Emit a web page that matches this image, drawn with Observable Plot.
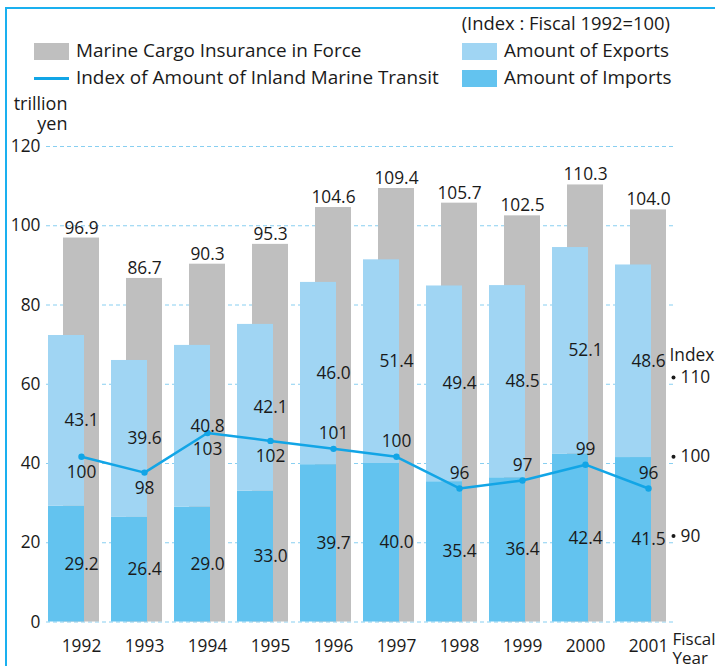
<!DOCTYPE html>
<html>
<head>
<meta charset="utf-8">
<script src="https://cdn.jsdelivr.net/npm/d3@7"></script>
<script src="https://cdn.jsdelivr.net/npm/@observablehq/plot@0.6"></script>
<style>
  html, body { margin: 0; padding: 0; background: #fff; overflow: hidden; }
  body { font-family: "Open Sans", sans-serif; color: #1a1a1a; }
  #wrap { position: relative; width: 715px; height: 666px; overflow: hidden; }
  #frame { position: absolute; left: 5px; top: 7px; width: 800px; height: 800px;
           border-left: 2px solid #1ab0ef; border-top: 2px solid #1ab0ef; pointer-events: none; }
  #head { position: relative; height: 92px; font-size: 18.9px; }
  .lbl { position: absolute; white-space: nowrap; line-height: 1; }
  .sw { position: absolute; }
  #chart svg { display: block; }
</style>
</head>
<body>
<div id="wrap">
  <div id="frame"></div>
  <div id="head"></div>
  <div id="chart"></div>
</div>
<script>
// ---- data ----
const years = ["1992", "1993", "1994", "1995", "1996", "1997", "1998", "1999", "2000", "2001"];
const cargoInsurance = [96.9, 86.7, 90.3, 95.3, 104.6, 109.4, 105.7, 102.5, 110.3, 104.0];
const exportsAmt = [43.1, 39.6, 40.8, 42.1, 46.0, 51.4, 49.4, 48.5, 52.1, 48.6];
const importsAmt = [29.2, 26.4, 29.0, 33.0, 39.7, 40.0, 35.4, 36.4, 42.4, 41.5];
const transitIndex = [100, 98, 103, 102, 101, 100, 96, 97, 99, 96];
const yTicks = [0, 20, 40, 60, 80, 100, 120];
const indexTicks = [90, 100, 110];
const seriesNames = ["Marine Cargo Insurance in Force", "Index of Amount of Inland Marine Transit", "Amount of Exports", "Amount of Imports"];
const noteText = "(Index : Fiscal 1992=100)";

// ---- styles ----
const C = { cargo: "#bfbfbf", exp: "#a0d5f3", imp: "#63c3ef", line: "#12a5e6", grid: "#88cff1", text: "#1a1a1a" };

// right-hand index axis aligned to the left scale (index 100 ~ 41.7 trillion yen, 10 pts = 20)
const idxToY = v => 41.7 + (v - 100) * 2;

const rows = years.map((year, i) => ({
  year, cargo: cargoInsurance[i], exports: exportsAmt[i], imports: importsAmt[i], transit: transitIndex[i], order: i
}));

// ---- legend (HTML above the svg) ----
const head = document.getElementById("head");
function add(cls, css, text) {
  const el = document.createElement("div");
  el.className = cls;
  Object.assign(el.style, css);
  if (text) el.textContent = text;
  head.appendChild(el);
  return el;
}
add("lbl", {right: "45px", top: "14.2px", fontSize: "18.4px"}, noteText);
add("sw", {left: "34px", top: "43px", width: "35px", height: "17px", background: C.cargo});
add("lbl", {left: "76px", top: "41.3px"}, seriesNames[0]);
add("sw", {left: "34px", top: "76.7px", width: "35px", height: "3px", background: C.line});
add("lbl", {left: "76px", top: "68.3px"}, seriesNames[1]);
add("sw", {left: "462px", top: "43px", width: "35px", height: "17px", background: C.exp});
add("lbl", {left: "504px", top: "41.3px"}, seriesNames[2]);
add("sw", {left: "462px", top: "70px", width: "35px", height: "17px", background: C.imp});
add("lbl", {left: "504px", top: "68.3px"}, seriesNames[3]);

// ---- chart ----
const fmt = d3.format(".1f");
const numFont = 17.3;

const chart = Plot.plot({
  width: 715,
  height: 574,
  marginLeft: 46,
  marginRight: 42,
  marginTop: 54,
  marginBottom: 44.5,
  style: { fontFamily: "'Open Sans', sans-serif", fontSize: numFont + "px", color: C.text, background: "transparent", overflow: "visible" },
  x: { type: "band", domain: years, range: [49.5, 679.5], paddingInner: 27 / 63, paddingOuter: 13.5 / 63, align: 0.5, round: false },
  y: { domain: [0, 120] },
  marks: [
    Plot.ruleY(yTicks, { stroke: C.grid, strokeWidth: 1, strokeDasharray: "4,3" }),
    Plot.barY(rows, { x: "year", y1: 0, y2: "cargo", fill: C.cargo }),
    Plot.barY(rows, { x: "year", y1: 0, y2: "imports", fill: C.imp, dx: -15 }),
    Plot.barY(rows, { x: "year", y1: "imports", y2: d => d.imports + d.exports, fill: C.exp, dx: -15 }),
    Plot.line(rows, { x: "year", y: d => idxToY(d.transit), stroke: C.line, strokeWidth: 2.5 }),
    Plot.dot(rows, { x: "year", y: d => idxToY(d.transit), r: 3.2, fill: C.line }),
    // value labels
    Plot.text(rows, { x: "year", y: "cargo", text: d => fmt(d.cargo), lineAnchor: "bottom", dy: -4.5, fill: C.text }),
    Plot.text(rows, { x: "year", y: d => d.imports + d.exports / 2, text: d => fmt(d.exports), fill: C.text }),
    Plot.text(rows, { x: "year", y: d => d.imports / 2, text: d => fmt(d.imports), fill: C.text }),
    Plot.text(rows.filter(d => d.order < 4), { x: "year", y: d => idxToY(d.transit), text: d => String(d.transit), dy: 16, fill: C.text }),
    Plot.text(rows.filter(d => d.order >= 4), { x: "year", y: d => idxToY(d.transit), text: d => String(d.transit), dy: -15, fill: C.text }),
    // axes
    Plot.axisY({ ticks: yTicks, tickSize: 0, tickPadding: 6, label: null, fill: C.text }),
    Plot.axisX({ tickSize: 0, tickPadding: 18, label: null, fill: C.text }),
    // right-hand index axis
    Plot.dot(indexTicks, { y: idxToY, frameAnchor: "right", r: 2, fill: C.text }),
    Plot.text(indexTicks, { y: idxToY, text: d => String(d), frameAnchor: "right", textAnchor: "start", dx: 7, fill: C.text }),
    Plot.text(["Index"], { y: idxToY(110), frameAnchor: "right", textAnchor: "start", dx: -4, dy: -22, fill: C.text, fontSize: 17.3 }),
    // axis titles
    Plot.text(["trillion\nyen"], { frameAnchor: "top-left", textAnchor: "end", lineAnchor: "bottom", lineHeight: 1.08, dx: 21, dy: -16.7, fill: C.text, fontSize: 18 }),
    Plot.text(["Fiscal\nYear"], { frameAnchor: "bottom-right", textAnchor: "start", lineAnchor: "bottom", lineHeight: 1.1, dx: -1, dy: 42, fill: C.text, fontSize: 17 })
  ]
});
document.getElementById("chart").appendChild(chart);
</script>
</body>
</html>
